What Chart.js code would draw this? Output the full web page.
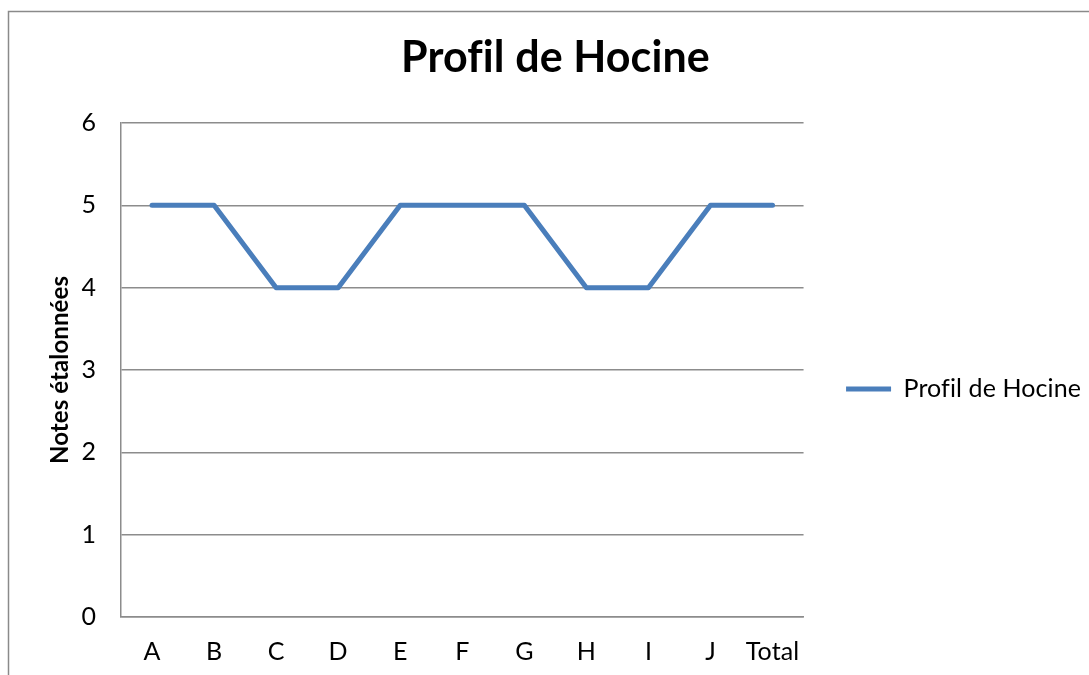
<!DOCTYPE html>
<html lang="fr">
<head>
<meta charset="utf-8">
<title>Profil de Hocine</title>
<script src="https://cdn.jsdelivr.net/npm/chart.js@4"></script>
<style>
    html, body { margin: 0; padding: 0; background: #fff; }
    #wrap { width: 1089px; height: 675px; }
</style>
</head>
<body>
<div id="wrap"><canvas id="profilChart" width="1089" height="675"></canvas></div>
<script>
// Données
const categories = ['A', 'B', 'C', 'D', 'E', 'F', 'G', 'H', 'I', 'J', 'Total'];
const notes = [5, 5, 4, 4, 5, 5, 5, 4, 4, 5, 5];
const yTicks = [0, 1, 2, 3, 4, 5, 6];

const gridColor = '#8c8c8c';
const lineColor = '#4A7EBB';

// Cadre gris autour du graphique (coupé à droite et en bas comme la capture)
// + petit espacement des lettres pour éviter la ligature "fi" de Lato
const framePlugin = {
    id: 'frame',
    beforeInit(chart) { chart.ctx.letterSpacing = '0.1px'; },
    beforeDraw(chart) {
        const ctx = chart.ctx;
        ctx.letterSpacing = '0.1px';
        ctx.save();
        ctx.fillStyle = '#fff';
        ctx.fillRect(0, 0, chart.width, chart.height);
        ctx.strokeStyle = '#8a8a8a';
        ctx.lineWidth = 1.5;
        ctx.strokeRect(8.5, 11.5, 2000, 2000);
        ctx.restore();
    }
};

new Chart(document.getElementById('profilChart'), {
    type: 'line',
    data: {
        labels: categories,
        datasets: [{
            label: 'Profil de Hocine',
            data: notes,
            borderColor: lineColor,
            backgroundColor: lineColor,
            borderWidth: 5,
            borderCapStyle: 'round',
            borderJoinStyle: 'round',
            pointRadius: 0,
            tension: 0,
            fill: false
        }]
    },
    options: {
        responsive: false,
        animation: false,
        layout: { padding: { left: 22, right: 0, top: 0, bottom: 0 } },
        font: { family: 'Lato' },
        scales: {
            x: {
                offset: true,
                grid: { display: false, drawTicks: false },
                border: { display: true, color: gridColor, width: 1.5 },
                ticks: { color: '#000', font: { family: 'Lato', size: 25 }, padding: 19.5, maxRotation: 0, autoSkip: false },
                afterFit(scale) { scale.height = 58; }
            },
            y: {
                min: yTicks[0],
                max: yTicks[yTicks.length - 1],
                afterBuildTicks(scale) { scale.ticks = yTicks.map(v => ({ value: v })); },
                grid: { color: gridColor, lineWidth: 1.5, drawTicks: false },
                border: { display: true, color: gridColor, width: 1.5 },
                ticks: { color: '#000', font: { family: 'Lato', size: 25 }, padding: 25 },
                title: {
                    display: true,
                    text: 'Notes étalonnées',
                    color: '#000',
                    font: { family: 'Lato', size: 24, weight: 'bold' },
                    padding: { top: 24, bottom: 0 }
                },
                afterFit(scale) { scale.width = 99; }
            }
        },
        plugins: {
            title: {
                display: true,
                text: 'Profil de Hocine',
                color: '#000',
                font: { family: 'Lato', size: 43, weight: 'bold' },
                padding: { top: 32, bottom: 39.4 }
            },
            legend: {
                position: 'right',
                maxWidth: 286,
                title: { display: true, text: '', font: { size: 10, lineHeight: 1 }, padding: { top: 93, bottom: 0 } },
                labels: {
                    color: '#000',
                    font: { family: 'Lato', size: 25 },
                    usePointStyle: true,
                    pointStyle: 'line',
                    pointStyleWidth: 45,
                    padding: 42.5
                }
            },
            tooltip: { enabled: false }
        }
    },
    plugins: [framePlugin]
});
</script>
</body>
</html>
